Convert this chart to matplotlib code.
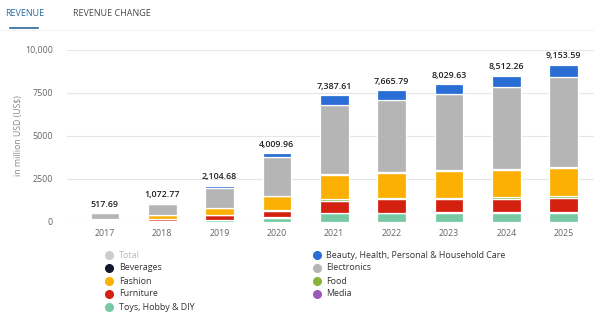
import matplotlib
matplotlib.use("Agg")
import matplotlib.pyplot as plt
import numpy as np

plt.rcParams['font.family'] = ['Open Sans', 'DejaVu Sans']

years = ["2017", "2018", "2019", "2020", "2021", "2022", "2023", "2024", "2025"]
totals = [517.69, 1072.77, 2104.68, 4009.96, 7387.61, 7665.79, 8029.63, 8512.26, 9153.59]

toys        = [20, 30, 90, 240, 480, 480, 500, 510, 520]
media       = [10, 15, 20, 30, 40, 40, 40, 40, 40]
furniture   = [40, 90, 260, 380, 700, 780, 760, 780, 820]
food        = [15, 20, 40, 60, 100, 100, 100, 110, 120]
fashion     = [80, 220, 380, 760, 1420, 1440, 1580, 1560, 1620]
beverages   = [10, 15, 25, 40, 60, 60, 60, 60, 60]
electronics = [320, 640, 1150, 2230, 4020, 4180, 4400, 4790, 5250]
beauty      = [22.69, 42.77, 139.68, 269.96, 567.61, 585.79, 589.63, 662.26, 723.59]

series = [
    ("Toys, Hobby & DIY", toys, "#76c9a3"),
    ("Media", media, "#9b59b6"),
    ("Furniture", furniture, "#d3200f"),
    ("Food", food, "#86b53a"),
    ("Fashion", fashion, "#fbb003"),
    ("Beverages", beverages, "#111a2c"),
    ("Electronics", electronics, "#b5b5b5"),
    ("Beauty, Health, Personal & Household Care", beauty, "#2a6dd4"),
]

W, H = 594, 326
fig = plt.figure(figsize=(W/100, H/100), dpi=100)
ax_left = 67 / W
ax_bottom = (H - 221.7) / H
ax_height = (221.7 - 50) / H
ax = fig.add_axes([ax_left, ax_bottom, 1 - ax_left, ax_height])

x = np.arange(len(years))
bottom = np.zeros(len(years))
for name, vals, col in series:
    ax.bar(x, vals, bottom=bottom, width=0.5, color=col, edgecolor="white",
           linewidth=0.9, zorder=3)
    bottom += np.array(vals)

for xi, t in zip(x, totals):
    ax.annotate(f"{t:,.2f}", (xi, t), xytext=(0, 3), textcoords="offset points",
                ha="center", va="bottom", fontsize=6.4, color="#222222",
                fontweight="semibold")

ax.set_ylim(0, 10000)
ax.set_xlim(-0.66, 8.53)
ax.set_yticks([0, 2500, 5000, 7500, 10000])
ax.set_yticklabels(["0", "2500", "5000", "7500", "10,000"])
ax.set_xticks(x)
ax.set_xticklabels(years)
ax.tick_params(axis="both", length=0, labelsize=6.4, colors="#666666")
ax.tick_params(axis="y", pad=10)
ax.tick_params(axis="x", pad=5)
ax.grid(axis="y", color="#e6e6e6", linewidth=0.8, zorder=0)
for s in ax.spines.values():
    s.set_visible(False)
ax.set_ylabel("in million USD (US$)", fontsize=6.3, color="#888888")
ax.yaxis.set_label_coords(-(67 - 22.5) / (W - 67), 0.5)

# Tabs
fig.text(5 / W, 1 - 13 / H, "REVENUE", fontsize=6.5, color="#2b6a9c",
         ha="left", va="center")
fig.text(73 / W, 1 - 13 / H, "REVENUE CHANGE", fontsize=6.5, color="#4a4a4a",
         ha="left", va="center")
fig.add_artist(plt.Line2D([10 / W, 38 / W], [1 - 28 / H, 1 - 28 / H],
                          color="#2b6a9c", linewidth=1.2))
fig.add_artist(plt.Line2D([0, 1], [1 - 29.5 / H, 1 - 29.5 / H],
                          color="#f0f0f0", linewidth=0.6))

# Legend
legend_col1 = [("Total", "#cccccc", "#bbbbbb"),
               ("Beverages", "#111a2c", "#333333"),
               ("Fashion", "#fbb003", "#333333"),
               ("Furniture", "#d3200f", "#333333"),
               ("Toys, Hobby & DIY", "#76c9a3", "#333333")]
legend_col2 = [("Beauty, Health, Personal & Household Care", "#2a6dd4", "#333333"),
               ("Electronics", "#b5b5b5", "#333333"),
               ("Food", "#86b53a", "#333333"),
               ("Media", "#9b59b6", "#333333")]
rows_y = [255, 268, 281, 294, 307]
for (lab, mc, tc), yy in zip(legend_col1, rows_y):
    fig.add_artist(plt.Line2D([109 / W], [1 - yy / H], marker="o", markersize=5.5,
                              color=mc, linestyle="none"))
    fig.text(119 / W, 1 - yy / H, lab, fontsize=6.4, color=tc, ha="left", va="center")
for (lab, mc, tc), yy in zip(legend_col2, rows_y):
    fig.add_artist(plt.Line2D([317 / W], [1 - yy / H], marker="o", markersize=5.5,
                              color=mc, linestyle="none"))
    fig.text(326 / W, 1 - yy / H, lab, fontsize=6.4, color=tc, ha="left", va="center")

fig.savefig("out.png", dpi=100, facecolor="white")
